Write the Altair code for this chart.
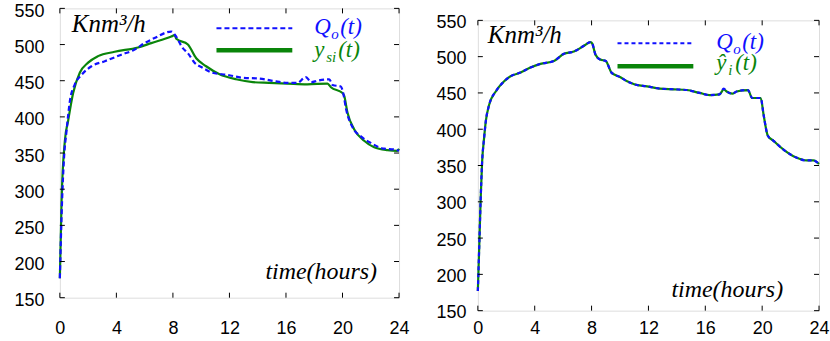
import altair as alt
import pandas as pd

# ---------------- data ----------------
x_ticks = [0, 4, 8, 12, 16, 20, 24]
y_ticks = [150, 200, 250, 300, 350, 400, 450, 500, 550]

# left panel: measured Q_o(t)
qL_t = [0, 0.15, 0.3, 0.47, 0.71, 1.06, 1.53, 2.24, 3.18, 4.35, 5.29, 6.0, 6.7, 7.88,
        8.12, 8.7, 9.06, 9.53, 10.1, 10.8, 11.88, 12.94, 14.1, 15.3, 16.1, 16.8, 17.4,
        17.8, 18.2, 19.06, 19.3, 19.88, 20.07, 20.24, 20.7, 21.3, 22.0, 22.94, 23.65, 24]
qL_v = [177, 280, 345, 380, 422, 445, 458, 470, 477, 486, 493, 502, 509, 518,
        514, 495, 488, 475, 468, 461, 458, 454, 453, 449, 447, 447, 455,
        448, 450, 452, 444, 442, 431, 412, 386, 373, 364, 356, 355, 353]

# left panel: model output y_si(t)
ys_t = [0, 0.12, 0.35, 0.59, 0.94, 1.41, 2.0, 2.7, 3.88, 5.53, 6.47, 7.88, 8.12, 8.24,
        9.06, 9.65, 10.35, 11.3, 12.47, 13.65, 14.8, 16.1, 17.5, 18.94, 19.18, 20.0,
        20.12, 20.35, 20.82, 21.53, 22.24, 23.18, 23.88, 24]
ys_v = [177, 283, 366, 395, 433, 461, 475, 484, 490, 496, 502, 511, 513, 508,
        500, 481, 470, 459, 452, 448, 447, 446, 445, 446, 441, 433,
        429, 406, 383, 367, 358, 354, 353, 356]

# right panel: measured Q_o(t)
qR_t = [0, 0.1, 0.2, 0.3, 0.44, 0.56, 0.8, 1.26, 1.85, 2.3, 3.0, 3.7, 4.4, 5.35, 6.06,
        6.76, 7.46, 7.93, 8.05, 8.27, 8.6, 9.0, 9.4, 10.0, 10.5, 11.0, 11.9, 12.8, 13.8,
        14.7, 15.6, 16.3, 17.0, 17.3, 17.5, 17.9, 18.2, 19.0, 19.3, 19.9, 20.1, 20.4,
        20.8, 21.5, 22.4, 23.1, 23.6, 24]
qR_v = [177, 240, 305, 355, 388, 411, 434, 452, 466, 473, 478, 485, 490, 494, 504,
        507, 515, 520, 518, 503, 496, 494, 478, 472, 466, 462, 459, 456, 455,
        454, 450, 447, 448, 456, 452, 449, 452, 454, 443, 443, 420, 391,
        384, 372, 361, 357, 357, 352]

# right panel: model output y_hat_i(t) (coincides with Q_o)
yh_t = list(qR_t)
yh_v = [177, 240, 305, 355, 388, 411, 434, 452, 466, 473, 478, 485, 490, 494, 504,
        507, 515, 520, 518, 503, 496, 494, 478, 472, 466, 462, 459, 456, 455,
        454, 450, 447, 448, 455, 452, 449, 452, 454, 443, 443, 420, 391,
        384, 372, 361, 357, 357, 352]

BLUE = "#1010ff"
GREEN = "#0a850a"
LFONT = "Liberation Sans"
MFONT = "Liberation Serif"


def txt(label, x, y, size=23, color="black", align="left"):
    return alt.Chart(alt.Data(values=[{"label": label}])).mark_text(
        font=MFONT, fontStyle="italic", fontSize=size, color=color,
        align=align, baseline="alphabetic"
    ).encode(text="label:N", x=alt.value(x), y=alt.value(y))


def panel(t1, v1, t2, v2, W, H, ylabpad, xlabpad, ylaboff, legend, sym, leg, k_pos, time_pos,
          dash):
    xs = alt.Scale(domain=[0, 24], nice=False, zero=False)
    ysc = alt.Scale(domain=[150, 550], nice=False, zero=False)
    xax = alt.Axis(values=x_ticks, labelPadding=xlabpad, tickSize=0, domain=False,
                   grid=False, labelFont=LFONT, labelFontSize=18, labelColor="black",
                   labelFlush=False, labelOverlap=False)
    yax = alt.Axis(values=y_ticks, labelPadding=ylabpad, tickSize=0, domain=False,
                   grid=False, labelFont=LFONT, labelFontSize=18, labelColor="black",
                   labelOffset=ylaboff, labelFlush=False, labelOverlap=False)
    X = alt.X("t:Q", scale=xs, title=None, axis=xax)
    Y = alt.Y("v:Q", scale=ysc, title=None, axis=yax)
    df1 = pd.DataFrame({"t": t1, "v": v1})
    df2 = pd.DataFrame({"t": t2, "v": v2})
    base_green = alt.Chart(df2).mark_line(color=GREEN, strokeWidth=2.2,
                                          interpolate="monotone").encode(x=X, y=Y)
    blue = alt.Chart(df1).mark_line(color=BLUE, strokeWidth=2.2, strokeDash=dash,
                                    interpolate="monotone").encode(x=X, y=Y)
    xt = pd.DataFrame({"t": x_ticks})
    yt = pd.DataFrame({"v": y_ticks})
    xt_b = alt.Chart(xt).mark_rule(color="black", strokeWidth=1).encode(
        x=X, y=alt.value(H), y2=alt.value(H - 5))
    xt_t = alt.Chart(xt).mark_rule(color="black", strokeWidth=1).encode(
        x=X, y=alt.value(0), y2=alt.value(5))
    yt_l = alt.Chart(yt).mark_rule(color="black", strokeWidth=1).encode(
        y=Y, x=alt.value(0), x2=alt.value(5))
    yt_r = alt.Chart(yt).mark_rule(color="black", strokeWidth=1).encode(
        y=Y, x=alt.value(W - 5), x2=alt.value(W))
    lx0, lx1, ly1, ly2 = leg
    leg_blue = alt.Chart(alt.Data(values=[{"a": 1}])).mark_rule(
        color=BLUE, strokeWidth=2, strokeDash=dash).encode(
        x=alt.value(lx0), x2=alt.value(lx1), y=alt.value(ly1))
    leg_green = alt.Chart(alt.Data(values=[{"a": 1}])).mark_rule(
        color=GREEN, strokeWidth=4.5).encode(
        x=alt.value(lx0), x2=alt.value(lx1), y=alt.value(ly2))
    layers = [base_green, blue, xt_b, xt_t, yt_l, yt_r, leg_blue, leg_green]
    # legend labels with subscripts
    (qx, qy), (gx, gy) = legend
    layers += [txt("Q", qx, qy, color=BLUE), txt("o", qx + 17, qy + 5, size=15, color=BLUE),
               txt("(t)", qx + 26, qy, color=BLUE)]
    layers += [txt(sym[0], gx, gy, color=GREEN),
               txt(sym[1], gx + sym[2], gy + 5, size=15, color=GREEN),
               txt("(t)", gx + sym[3], gy, color=GREEN)]
    layers += [txt("Knm³/h", k_pos[0], k_pos[1], size=25),
               txt("time(hours)", time_pos[0], time_pos[1], size=24, align="right")]
    return alt.layer(*layers).properties(width=W, height=H)


left = panel(qL_t, qL_v, ys_t, ys_v, W=340, H=290, ylabpad=16, xlabpad=22, ylaboff=3,
             legend=((255, 26), (255, 49)), sym=("y", "si", 12, 24),
             leg=(157, 233, 20, 42), k_pos=(12, 24), time_pos=(318, 271), dash=[5, 3])
right = panel(qR_t, qR_v, yh_t, yh_v, W=342, H=291, ylabpad=12, xlabpad=9, ylaboff=2,
              legend=((239, 29), (239, 50)), sym=("ŷ", "i", 12, 19),
              leg=(140, 216, 23, 46), k_pos=(10, 23), time_pos=(306, 277), dash=[4, 3])

spacer = alt.Chart(alt.Data(values=[{"a": 1}])).mark_point(opacity=0).encode(
    x=alt.value(0), y=alt.value(0)
).properties(width=342, height=1, view=alt.ViewBackground(stroke="transparent"))

right_col = alt.vconcat(spacer, right, spacing=0)

chart = alt.hconcat(left, right_col, spacing=25).properties(
    padding={"left": 13, "top": 1, "right": 0, "bottom": 0}
).configure_view(stroke="black", strokeWidth=1.2).configure(background="white")

chart.save("out.html", embed_options={"renderer": "svg", "actions": False})
